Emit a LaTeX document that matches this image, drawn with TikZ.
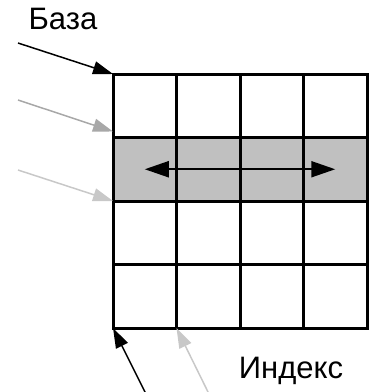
\documentclass[tikz,border=0pt]{standalone}
\usepackage{fontspec}
\setmainfont{Liberation Sans}
\usepackage{xcolor}
\usepackage{tikz}
\usetikzlibrary{arrows.meta,backgrounds}
\definecolor{rowgray}{RGB}{192,192,192}
\definecolor{midgray}{RGB}{168,168,168}
\definecolor{lightgray}{RGB}{200,200,200}

\begin{document}
\begin{tikzpicture}[x=1pt, y=-1pt,
        cell/.style = {draw, line width=3pt, minimum size=63.5pt, inner sep=0pt, outer sep=0pt},
        pointer/.style = {-{Triangle[length=20pt, width=13pt]}, line width=1.5pt},
        caption/.style = {font=\fontsize{31}{36}\selectfont, inner sep=0pt}]
        \useasboundingbox (0,0) rectangle (382,392);
        \foreach \r in {1,...,4}
            \foreach \c in {1,...,4}
                \node (c\r\c) at ({113+63.5*(\c-0.5)}, {74+63.5*(\r-0.5)}) [cell] {};
        \begin{pgfonlayer}{background}
            \fill [rowgray] (c21.north west) rectangle (c24.south east);
        \end{pgfonlayer}
        \draw [{Triangle[length=24pt, width=16pt]}-{Triangle[length=24pt, width=16pt]}, line width=2pt] (c21.center) -- (c24.center);
        \node (base) at (63, 19) [caption] {База};
        \node (index) at (291, 371) [caption] {Индекс};
        \coordinate (basefrom) at (18, 43);
        \coordinate (rowfrom) at (18, 100);
        \coordinate (nextfrom) at (18, 170);
        \coordinate (indexfrom) at (146, 394);
        \coordinate (stepfrom) at (209, 394);
        \draw [pointer] (basefrom) -- (c11.north west);
        \draw [pointer, midgray] (rowfrom) -- ([yshift=6pt]c21.north west);
        \draw [pointer, lightgray] (nextfrom) -- (c31.north west);
        \draw [pointer] (indexfrom) -- (c41.south west);
        \draw [pointer, lightgray] (stepfrom) -- (c42.south west);
    \end{tikzpicture}
\end{document}
